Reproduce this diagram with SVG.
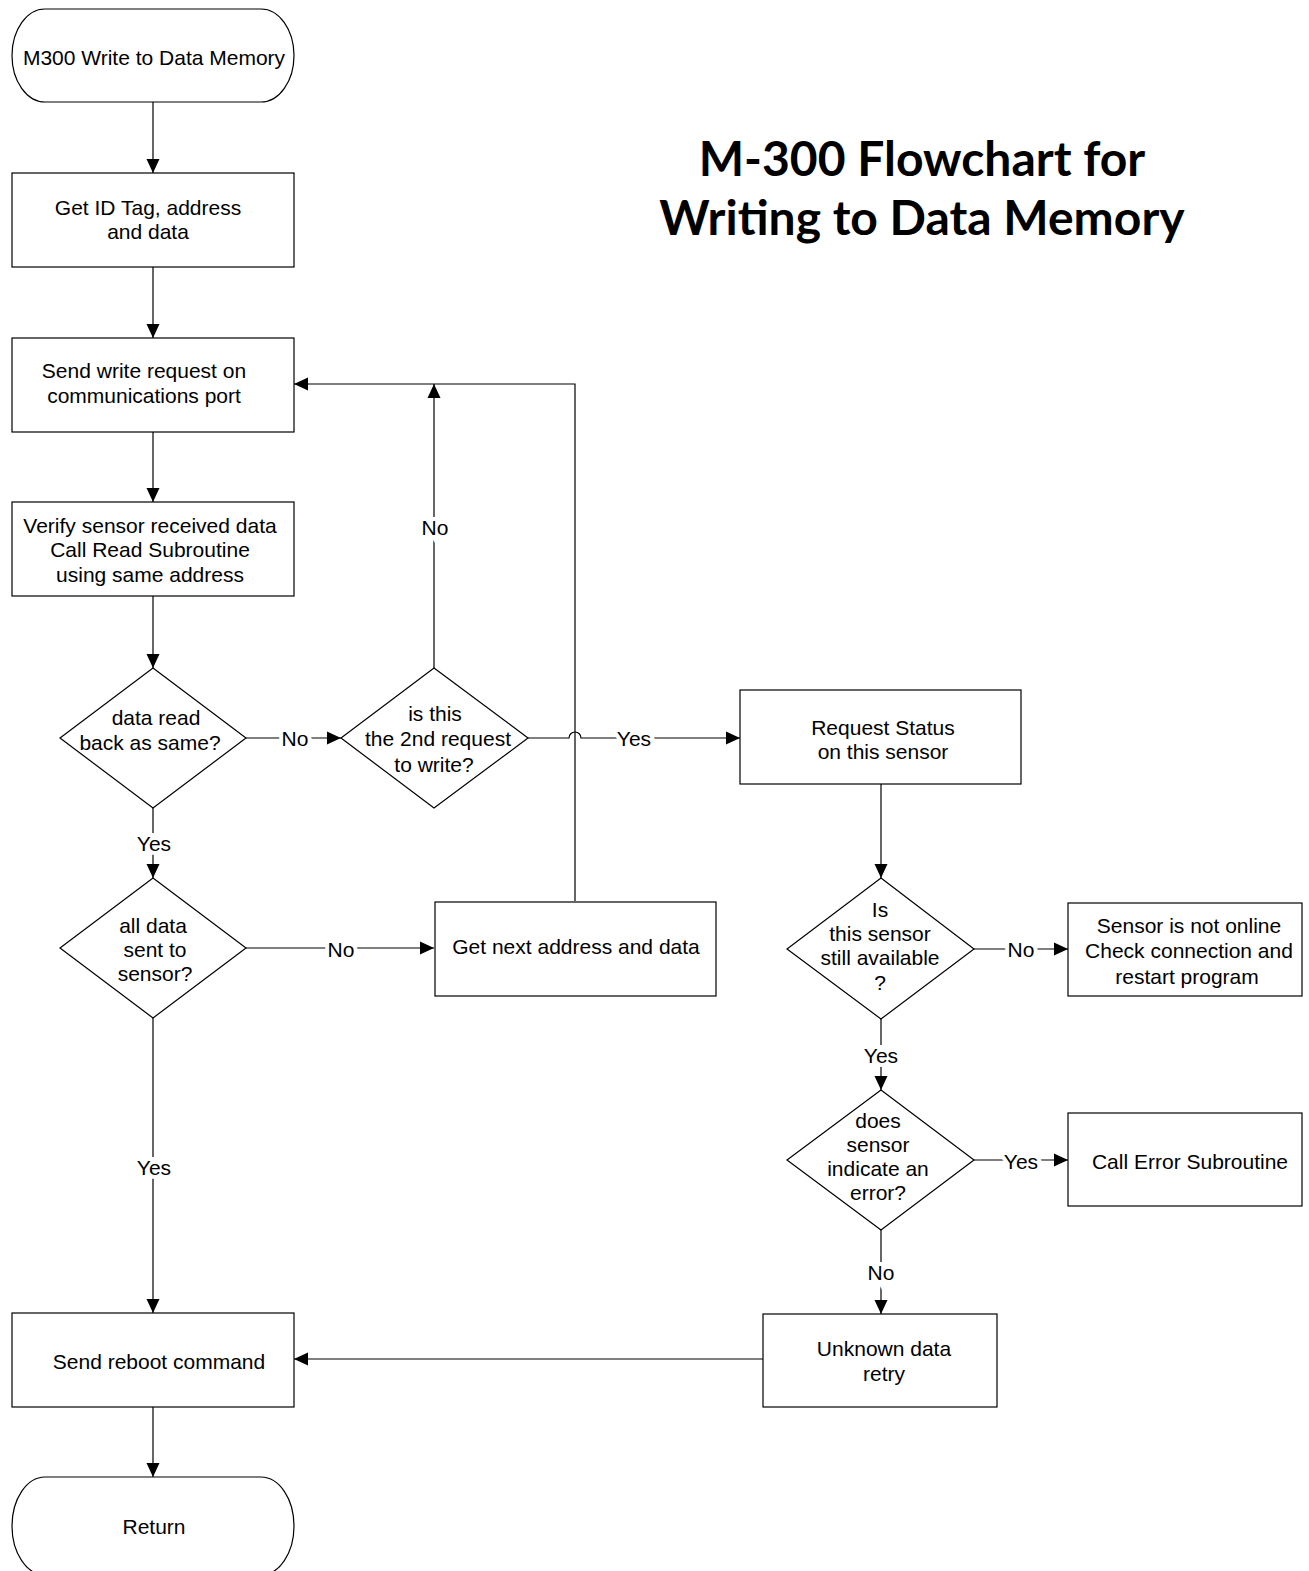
<svg xmlns="http://www.w3.org/2000/svg" width="1309" height="1571" viewBox="0 0 1309 1571">
<defs>
<marker id="arr" markerWidth="15" markerHeight="14" refX="14" refY="7" orient="auto" markerUnits="userSpaceOnUse">
<path d="M0,0.5 L14,7 L0,13.5 z" fill="#000"/>
</marker>
<style>
.shape{fill:#fff;stroke:#000;stroke-width:1.2}
.t{font-family:"Liberation Sans",Arial,sans-serif;font-size:21px;fill:#000;text-anchor:middle}
.lbl{font-family:"Liberation Sans",Arial,sans-serif;font-size:21px;fill:#000;text-anchor:middle;paint-order:stroke;stroke:#fff;stroke-width:8px}
.c{fill:none;stroke:#000;stroke-width:1.2}
.title{font-family:Lato,"Noto Sans",sans-serif;font-weight:700;font-size:48px;fill:#000;text-anchor:middle}
</style>
</defs>
<rect width="1309" height="1571" fill="#fff"/>
<g id="title">
<text class="title" x="922" y="176">M-300 Flowchart for</text>
<text class="title" x="922" y="235">Writing to Data Memory</text>
</g>
<g id="connectors">
<path class="c" d="M153,102 V173" marker-end="url(#arr)"/>
<path class="c" d="M153,267 V338" marker-end="url(#arr)"/>
<path class="c" d="M153,432 V502" marker-end="url(#arr)"/>
<path class="c" d="M153,596 V668" marker-end="url(#arr)"/>
<path class="c" d="M246,738 H341" marker-end="url(#arr)"/>
<path class="c" d="M434,668 V384" marker-end="url(#arr)"/>
<path class="c" d="M575,901 V384 H294" marker-end="url(#arr)"/>
<path class="c" d="M528,738 H569 A6,6 0 0 1 581,738 H740" marker-end="url(#arr)"/>
<path class="c" d="M153,808 V878" marker-end="url(#arr)"/>
<path class="c" d="M246,948 H434" marker-end="url(#arr)"/>
<path class="c" d="M153,1018 V1313" marker-end="url(#arr)"/>
<path class="c" d="M881,784 V878" marker-end="url(#arr)"/>
<path class="c" d="M974,949 H1068" marker-end="url(#arr)"/>
<path class="c" d="M881,1019 V1090" marker-end="url(#arr)"/>
<path class="c" d="M974,1160 H1068" marker-end="url(#arr)"/>
<path class="c" d="M881,1230 V1314" marker-end="url(#arr)"/>
<path class="c" d="M763,1359 H294" marker-end="url(#arr)"/>
<path class="c" d="M153,1406 V1477" marker-end="url(#arr)"/>
<text class="lbl" x="295" y="746">No</text>
<text class="lbl" x="435" y="535">No</text>
<text class="lbl" x="634" y="746">Yes</text>
<text class="lbl" x="154" y="851">Yes</text>
<text class="lbl" x="341" y="957">No</text>
<text class="lbl" x="154" y="1175">Yes</text>
<text class="lbl" x="1021" y="957">No</text>
<text class="lbl" x="881" y="1063">Yes</text>
<text class="lbl" x="1021" y="1169">Yes</text>
<text class="lbl" x="881" y="1280">No</text>
</g>
<g id="start">
<path class="shape" d="M45,9 H261 A33,46.5 0 0 1 261,102 H45 A33,46.5 0 0 1 45,9 Z"/>
<text class="t" x="154" y="65">M300 Write to Data Memory</text>
</g>
<g id="get-id">
<rect class="shape" x="12" y="173" width="282" height="94"/>
<text class="t" x="148" y="215">Get ID Tag, address</text>
<text class="t" x="148" y="239">and data</text>
</g>
<g id="send-write">
<rect class="shape" x="12" y="338" width="282" height="94"/>
<text class="t" x="144" y="378">Send write request on</text>
<text class="t" x="144" y="403">communications port</text>
</g>
<g id="verify">
<rect class="shape" x="12" y="502" width="282" height="94"/>
<text class="t" x="150" y="533">Verify sensor received data</text>
<text class="t" x="150" y="557">Call Read Subroutine</text>
<text class="t" x="150" y="582">using same address</text>
</g>
<g id="d-same">
<polygon class="shape" points="153,668 246,738 153,808 60,738"/>
<text class="t" x="156" y="725">data read</text>
<text class="t" x="150" y="750">back as same?</text>
</g>
<g id="d-second">
<polygon class="shape" points="434,668 528,738 434,808 341,738"/>
<text class="t" x="435" y="721">is this</text>
<text class="t" x="438" y="746">the 2nd request</text>
<text class="t" x="434" y="772">to write?</text>
</g>
<g id="d-all">
<polygon class="shape" points="153,878 246,948 153,1018 60,948"/>
<text class="t" x="153" y="933">all data</text>
<text class="t" x="155" y="957">sent to</text>
<text class="t" x="155" y="981">sensor?</text>
</g>
<g id="get-next">
<rect class="shape" x="435" y="902" width="281" height="94"/>
<text class="t" x="576" y="954">Get next address and data</text>
</g>
<g id="request-status">
<rect class="shape" x="740" y="690" width="281" height="94"/>
<text class="t" x="883" y="735">Request Status</text>
<text class="t" x="883" y="759">on this sensor</text>
</g>
<g id="d-available">
<polygon class="shape" points="881,878 974,949 881,1019 787,949"/>
<text class="t" x="880" y="917">Is</text>
<text class="t" x="880" y="941">this sensor</text>
<text class="t" x="880" y="965">still available</text>
<text class="t" x="880" y="990">?</text>
</g>
<g id="not-online">
<rect class="shape" x="1068" y="903" width="234" height="93"/>
<text class="t" x="1189" y="933">Sensor is not online</text>
<text class="t" x="1189" y="958">Check connection and</text>
<text class="t" x="1187" y="984">restart program</text>
</g>
<g id="d-error">
<polygon class="shape" points="881,1090 974,1160 881,1230 787,1160"/>
<text class="t" x="878" y="1128">does</text>
<text class="t" x="878" y="1152">sensor</text>
<text class="t" x="878" y="1176">indicate an</text>
<text class="t" x="878" y="1200">error?</text>
</g>
<g id="call-error">
<rect class="shape" x="1068" y="1113" width="234" height="93"/>
<text class="t" x="1190" y="1169">Call Error Subroutine</text>
</g>
<g id="unknown">
<rect class="shape" x="763" y="1314" width="234" height="93"/>
<text class="t" x="884" y="1356">Unknown data</text>
<text class="t" x="884" y="1381">retry</text>
</g>
<g id="reboot">
<rect class="shape" x="12" y="1313" width="282" height="94"/>
<text class="t" x="159" y="1369">Send reboot command</text>
</g>
<g id="return">
<path class="shape" d="M45,1477 H261 A33,49 0 0 1 261,1575 H45 A33,49 0 0 1 45,1477 Z"/>
<text class="t" x="154" y="1534">Return</text>
</g>
</svg>
